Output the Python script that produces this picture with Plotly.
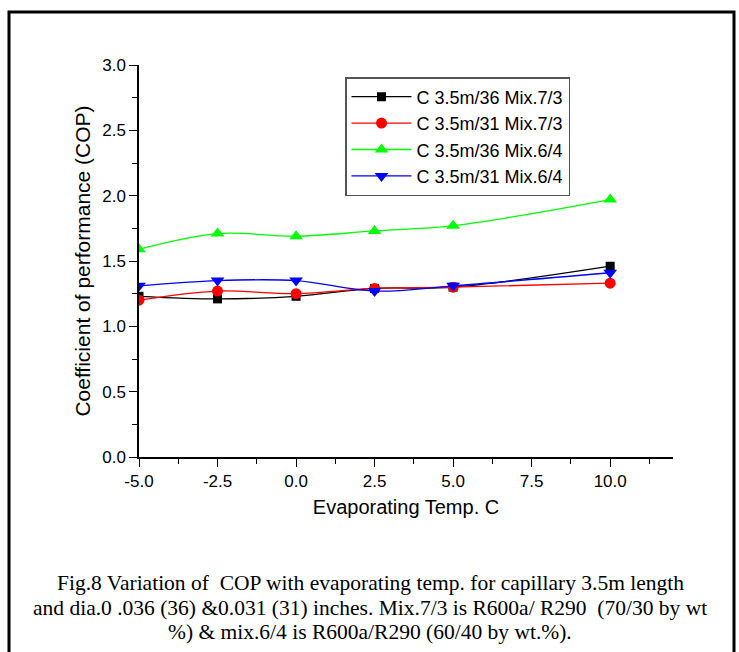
import plotly.graph_objects as go

temps = [-5.0, -2.5, 0.0, 2.5, 5.0, 10.0]
names = ["C 3.5m/36 Mix.7/3", "C 3.5m/31 Mix.7/3", "C 3.5m/36 Mix.6/4", "C 3.5m/31 Mix.6/4"]
cop_36_73 = [1.23, 1.21, 1.23, 1.29, 1.30, 1.46]
cop_31_73 = [1.20, 1.27, 1.25, 1.29, 1.30, 1.33]
cop_36_64 = [1.59, 1.71, 1.69, 1.73, 1.77, 1.97]
cop_31_64 = [1.31, 1.35, 1.35, 1.27, 1.31, 1.41]
x_ticks = [-5.0, -2.5, 0.0, 2.5, 5.0, 7.5, 10.0]
caption_lines = [
    "Fig.8 Variation of  COP with evaporating temp. for capillary 3.5m length",
    "and dia.0 .036 (36) &0.031 (31) inches. Mix.7/3 is R600a/ R290  (70/30 by wt",
    "%) & mix.6/4 is R600a/R290 (60/40 by wt.%).",
]

series = [cop_36_73, cop_31_73, cop_36_64, cop_31_64]
colors = ["#000000", "#ff0000", "#00ff00", "#0000ff"]
symbols = ["square", "circle", "triangle-up", "triangle-down"]
sizes = [9, 11, 12, 12]

fig = go.Figure()
for n, ys, c, s, sz in zip(names, series, colors, symbols, sizes):
    fig.add_trace(go.Scatter(
        x=temps, y=ys, name=n, mode="lines+markers",
        line=dict(color=c, width=1.3, shape="spline"),
        marker=dict(color=c, symbol=s, size=sz),
    ))

W, H = 739, 652
L, R, T, B = 139, 66, 65, 195
pw, ph = W - L - R, H - T - B

def px(x):
    return (x - L) / pw

def py(y):
    return (H - B - y) / ph

sans = "Liberation Sans, Arial, sans-serif"
axis_font = dict(family=sans, size=17, color="black")

fig.update_layout(
    width=W, height=H,
    margin=dict(l=L, r=R, t=T, b=B),
    paper_bgcolor="white", plot_bgcolor="white",
    showlegend=True,
    legend=dict(
        x=px(345), y=py(77), xanchor="left", yanchor="top",
        bordercolor="#555555", borderwidth=1.5, bgcolor="white",
        font=dict(family=sans, size=18, color="black"),
        itemwidth=60,
    ),
    xaxis=dict(
        range=[-5, 12], tickmode="array", tickvals=x_ticks,
        ticktext=[f"{v:.1f}" for v in x_ticks],
        ticks="outside", ticklen=8, tickwidth=1.3, tickcolor="black",
        minor=dict(tickmode="linear", tick0=-5, dtick=1.25, ticks="outside",
                   ticklen=5, tickwidth=1.3, tickcolor="black"),
        showline=True, linecolor="black", linewidth=1.5,
        showgrid=False, zeroline=False,
        tickfont=axis_font,
        title=dict(text="Evaporating Temp. C", font=dict(family=sans, size=20, color="black"), standoff=10),
    ),
    yaxis=dict(
        range=[0, 3], tick0=0, dtick=0.5, tickformat=".1f",
        ticks="outside", ticklen=8, tickwidth=1.3, tickcolor="black",
        minor=dict(tick0=0, dtick=0.25, ticks="outside",
                   ticklen=5, tickwidth=1.3, tickcolor="black"),
        showline=True, linecolor="black", linewidth=1.5,
        showgrid=False, zeroline=False,
        tickfont=axis_font,
        title=dict(text="Coefficient of performance (COP)", font=dict(family=sans, size=21, color="black"), standoff=6),
    ),
)

# outer frame of the figure
fig.add_shape(type="rect", xref="paper", yref="paper",
              x0=px(9), x1=px(734), y0=py(700), y1=py(12),
              line=dict(color="black", width=3), layer="below")

for line, ypix in zip(caption_lines, [583, 607.5, 632]):
    fig.add_annotation(text=line, xref="paper", yref="paper",
                       x=px(370), y=py(ypix), xanchor="center", yanchor="middle",
                       showarrow=False, align="center",
                       font=dict(family="Liberation Serif, Times New Roman, serif", size=21.5, color="black"))

fig.write_html("out.html")
